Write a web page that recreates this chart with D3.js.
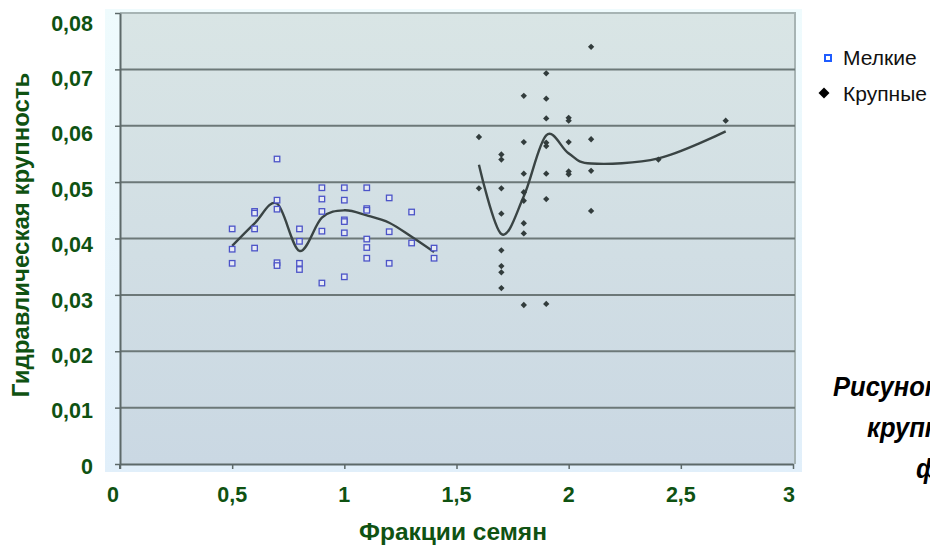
<!DOCTYPE html>
<html>
<head>
<meta charset="utf-8">
<script src="https://cdn.jsdelivr.net/npm/d3@7"></script>
<style>
  body { margin: 0; background: #fff; }
  svg { display: block; font-family: "Liberation Sans", Arial, sans-serif; }
</style>
</head>
<body>
<svg id="chart" width="930" height="546"></svg>
<script>
// Мелкие - scatter values
const melkieX = [0.5, 0.5, 0.5,
  0.6, 0.6, 0.6, 0.6,
  0.7, 0.7, 0.7, 0.7, 0.7,
  0.8, 0.8, 0.8, 0.8,
  0.9, 0.9, 0.9, 0.9, 0.9,
  1.0, 1.0, 1.0, 1.0, 1.0, 1.0,
  1.1, 1.1, 1.1, 1.1, 1.1, 1.1,
  1.2, 1.2, 1.2,
  1.3, 1.3,
  1.4, 1.4];
const melkieY = [0.0417, 0.0381, 0.0356,
  0.0448, 0.0445, 0.0417, 0.0383,
  0.0541, 0.0468, 0.0452, 0.0357, 0.0352,
  0.0417, 0.0395, 0.0356, 0.0345,
  0.0490, 0.0470, 0.0448, 0.0413, 0.0321,
  0.0490, 0.0468, 0.0433, 0.0430, 0.0410, 0.0332,
  0.0490, 0.0453, 0.0450, 0.0399, 0.0384, 0.0365,
  0.0472, 0.0412, 0.0356,
  0.0447, 0.0392,
  0.0383, 0.0365];

// Крупные - scatter values
const krupX = [1.6, 1.6,
  1.7, 1.7, 1.7, 1.7, 1.7, 1.7, 1.7, 1.7,
  1.8, 1.8, 1.8, 1.8, 1.8, 1.8, 1.8, 1.8,
  1.9, 1.9, 1.9, 1.9, 1.9, 1.9, 1.9, 1.9,
  2.0, 2.0, 2.0, 2.0, 2.0,
  2.1, 2.1, 2.1, 2.1,
  2.4,
  2.7];
const krupY = [0.0580, 0.0489,
  0.0549, 0.0540, 0.0489, 0.0444, 0.0379, 0.0351, 0.0340, 0.0312,
  0.0653, 0.0571, 0.0515, 0.0482, 0.0467, 0.0427, 0.0409, 0.0282,
  0.0693, 0.0648, 0.0613, 0.0570, 0.0564, 0.0515, 0.0470, 0.0284,
  0.0614, 0.0609, 0.0571, 0.0519, 0.0514,
  0.0740, 0.0576, 0.0520, 0.0449,
  0.0540,
  0.0609];

// smoothed lines
const melkieLineX = [0.5, 0.6, 0.7, 0.8, 0.9, 1.0, 1.1, 1.2, 1.3, 1.4];
const melkieLineY = [0.0387, 0.0427, 0.0462, 0.0378, 0.0437, 0.0450, 0.0441, 0.0428, 0.0403, 0.0376];
const krupLineX = [1.6, 1.7, 1.8, 1.9, 2.0, 2.1, 2.4, 2.7];
const krupLineY = [0.0531, 0.0408, 0.0475, 0.0583, 0.0551, 0.0533, 0.0542, 0.0590];

const xTicks = [0, 0.5, 1, 1.5, 2, 2.5, 3];
const xTickLabels = ['0', '0,5', '1', '1,5', '2', '2,5', '3'];
const yTicks = [0, 0.01, 0.02, 0.03, 0.04, 0.05, 0.06, 0.07, 0.08];
const yTickLabels = ['0', '0,01', '0,02', '0,03', '0,04', '0,05', '0,06', '0,07', '0,08'];

const green = '#0f5212';
const svg = d3.select('#chart');

const x = d3.scaleLinear().domain([0, 3]).range([120, 793]);
const y = d3.scaleLinear().domain([0, 0.08]).range([464, 13]);
// tick labels sit a little lower than their lines toward the top
const yLab = d3.scaleLinear().domain([0, 0.08]).range([466, 23]);

// backgrounds
const defs = svg.append('defs');
const g1 = defs.append('linearGradient').attr('id', 'chartBg').attr('x1', 0).attr('y1', 0).attr('x2', 0).attr('y2', 1);
g1.append('stop').attr('offset', '0%').attr('stop-color', '#effbfd');
g1.append('stop').attr('offset', '100%').attr('stop-color', '#e1effa');
const g2 = defs.append('linearGradient').attr('id', 'plotBg').attr('x1', 0).attr('y1', 0).attr('x2', 0).attr('y2', 1);
g2.append('stop').attr('offset', '0%').attr('stop-color', '#d9e5e5');
g2.append('stop').attr('offset', '100%').attr('stop-color', '#cad8e3');

svg.append('rect').attr('x', 105).attr('y', 9).attr('width', 697).attr('height', 463).attr('fill', 'url(#chartBg)');
svg.append('rect').attr('x', x(0)).attr('y', y(0.08)).attr('width', 795 - x(0)).attr('height', y(0) - y(0.08))
  .attr('fill', 'url(#plotBg)');
// light border top / right
svg.append('path')
  .attr('d', `M${x(0)},${y(0.08)}H795V${y(0)}`)
  .attr('fill', 'none').attr('stroke', '#a7b4b4').attr('stroke-width', 2);

// gridlines
svg.append('g').selectAll('line').data(yTicks.filter(d => d > 0 && d < 0.08)).join('line')
  .attr('x1', x(0)).attr('x2', 795)
  .attr('y1', d => y(d)).attr('y2', d => y(d))
  .attr('stroke', '#6c7878').attr('stroke-width', 2);

// axes (lines and ticks only)
const yAxis = svg.append('g').attr('transform', `translate(${x(0)},0)`)
  .call(d3.axisLeft(y).tickValues(yTicks).tickSize(5).tickFormat(() => '').tickSizeOuter(0));
const xAxis = svg.append('g').attr('transform', `translate(0,${y(0)})`)
  .call(d3.axisBottom(x).tickValues(xTicks).tickSize(5).tickFormat(() => '').tickSizeOuter(0));
[yAxis, xAxis].forEach(a => {
  a.select('.domain').attr('stroke', '#5d6969').attr('stroke-width', 2);
  a.selectAll('.tick line').attr('stroke', '#5d6969').attr('stroke-width', 1.5);
});
svg.append('line').attr('x1', x(0)).attr('x2', x(0)).attr('y1', y(0)).attr('y2', y(0) + 5)
  .attr('stroke', '#5d6969').attr('stroke-width', 2);

// tick labels
svg.append('g').selectAll('text').data(yTicks).join('text')
  .attr('x', 93).attr('y', d => yLab(d)).attr('dy', '0.36em')
  .attr('text-anchor', 'end').attr('font-size', 21.5).attr('font-weight', 'bold').attr('fill', green)
  .text((d, i) => yTickLabels[i]);
svg.append('g').selectAll('text').data(xTicks).join('text')
  .attr('x', (d, i) => x(d) - (i === 0 ? 7 : i === xTicks.length - 1 ? 4 : 0)).attr('y', 502)
  .attr('text-anchor', 'middle').attr('font-size', 21.5).attr('font-weight', 'bold').attr('fill', green)
  .text((d, i) => xTickLabels[i]);

// axis titles
svg.append('text').attr('x', 453).attr('y', 540).attr('text-anchor', 'middle')
  .attr('font-size', 24.5).attr('font-weight', 'bold').attr('fill', green).text('Фракции семян');
svg.append('text').attr('transform', 'translate(29,235) rotate(-90)').attr('text-anchor', 'middle')
  .attr('font-size', 24).attr('font-weight', 'bold').attr('fill', green).text('Гидравлическая крупность');

// smoothed lines
const line = d3.line().x(d => x(d[0])).y(d => y(d[1])).curve(d3.curveCardinal.tension(0));
svg.append('path').datum(melkieLineX.map((v, i) => [v, melkieLineY[i]]))
  .attr('d', line).attr('fill', 'none').attr('stroke', '#3a4444').attr('stroke-width', 2.4);
svg.append('path').datum(krupLineX.map((v, i) => [v, krupLineY[i]]))
  .attr('d', line).attr('fill', 'none').attr('stroke', '#3a4444').attr('stroke-width', 2.4);

// points
svg.append('g').selectAll('rect').data(melkieX.map((v, i) => [v, melkieY[i]])).join('rect')
  .attr('x', d => x(d[0]) - 2.75).attr('y', d => y(d[1]) - 2.75)
  .attr('width', 5.5).attr('height', 5.5)
  .attr('fill', '#e6eaf4').attr('stroke', '#4c54c8').attr('stroke-width', 1.3);
const diamond = d3.symbol().type(d3.symbolSquare).size(20)();
svg.append('g').selectAll('path').data(krupX.map((v, i) => [v, krupY[i]])).join('path')
  .attr('d', diamond)
  .attr('transform', d => `translate(${x(d[0])},${y(d[1])}) rotate(45)`)
  .attr('fill', '#323c3c');

// legend
svg.append('rect').attr('x', 825).attr('y', 55).attr('width', 6).attr('height', 6)
  .attr('fill', '#fff').attr('stroke', '#1f5cff').attr('stroke-width', 2);
svg.append('path').attr('d', d3.symbol().type(d3.symbolSquare).size(60)())
  .attr('transform', 'translate(824,93) rotate(45)').attr('fill', '#000');
svg.append('text').attr('x', 843).attr('y', 65).attr('font-size', 21).attr('fill', '#111').text('Мелкие');
svg.append('text').attr('x', 843).attr('y', 101).attr('font-size', 21).attr('fill', '#111').text('Крупные');

// caption on the right (cut by the page edge)
const caption = [['Рисунок', 833, 396], ['крупность', 867, 437], ['фракций', 916, 478]];
svg.append('g').selectAll('text').data(caption).join('text')
  .attr('transform', d => `translate(${d[1]},${d[2]}) scale(0.93,1)`)
  .attr('font-size', 27.5).attr('font-weight', 'bold').attr('font-style', 'italic').attr('fill', '#000')
  .text(d => d[0]);
</script>
</body>
</html>
